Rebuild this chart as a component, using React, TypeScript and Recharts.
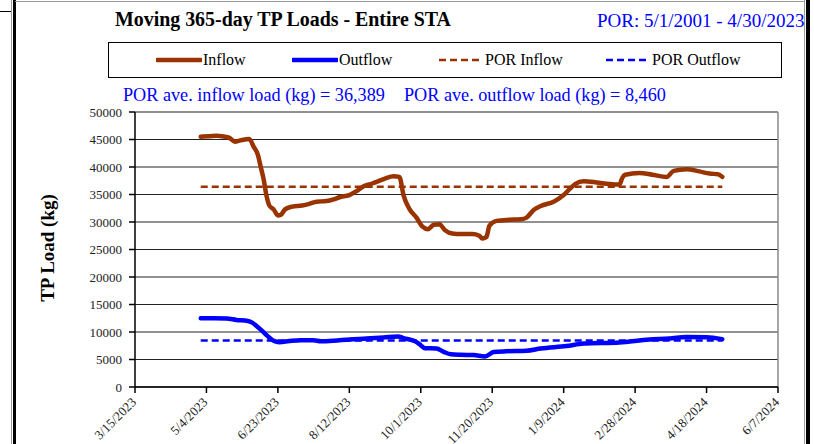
import React from "react";
import {
  LineChart,
  Line,
  XAxis,
  YAxis,
  CartesianGrid,
  ReferenceLine,
} from "recharts";

// days after 3/15/2023
const inflowDays = [
  46, 52, 57, 62, 66, 70, 73, 77, 80, 83, 86, 88, 90, 92, 94, 97, 100, 102, 105, 110,
  117, 122, 127, 134, 139, 143, 150, 155, 160, 166, 170, 175, 181, 185, 188, 192, 197,
  201, 205, 209, 213, 217, 222, 228, 236, 241, 243, 246, 248, 253, 262, 270, 274, 279,
  284, 293, 300, 305, 308, 314, 323, 332, 339, 341, 343, 353, 362, 372, 377, 386, 395,
  402, 408, 411,
];
const inflowLoads = [
  45500, 45600, 45700, 45550, 45300, 44600, 44800, 45000, 45100, 43700, 42200, 40000,
  37800, 34800, 33000, 32300, 31200, 31300, 32300, 32800, 33000, 33300, 33700, 33800,
  34100, 34500, 34900, 35600, 36500, 37000, 37400, 37900, 38300, 38200, 34800, 32400,
  30800, 29200, 28700, 29500, 29600, 28500, 27900, 27800, 27800, 27500, 27000, 27300,
  29300, 30200, 30400, 30500, 30800, 32200, 32900, 33700, 34900, 36200, 36900, 37400,
  37200, 36900, 36800, 38000, 38600, 38900, 38600, 38200, 39300, 39600, 39200, 38800,
  38700, 38200,
];

const outflowDays = [
  46, 55, 64, 71, 79, 82, 85, 89, 93, 97, 101, 108, 116, 125, 130, 139, 150, 162, 174,
  184, 188, 196, 199, 203, 211, 216, 221, 228, 237, 245, 251, 260, 274, 284, 302, 314,
  339, 360, 374, 386, 400, 411,
];
const outflowLoads = [
  12500, 12500, 12450, 12200, 12000, 11700, 11100, 10200, 9200, 8400, 8150, 8350, 8500,
  8500, 8300, 8400, 8650, 8800, 9000, 9200, 8900, 8300, 7800, 7050, 7000, 6400, 5950,
  5850, 5800, 5550, 6350, 6500, 6600, 7000, 7450, 7900, 8100, 8650, 8800, 9100, 9050,
  8700,
];

const porDays = [46, 411];
const porInflowAvg = 36389;
const porOutflowAvg = 8460;

const xTicks = [0, 50, 100, 150, 200, 250, 300, 350, 400, 450];
const yTicks = [0, 5000, 10000, 15000, 20000, 25000, 30000, 35000, 40000, 45000, 50000];

const inflowData = inflowDays.map((day, i) => ({ day, load: inflowLoads[i] }));
const outflowData = outflowDays.map((day, i) => ({ day, load: outflowLoads[i] }));
const porInflowData = porDays.map((day) => ({ day, load: porInflowAvg }));
const porOutflowData = porDays.map((day) => ({ day, load: porOutflowAvg }));

const BASE = Date.UTC(2023, 2, 15);
const fmtDate = (d: number) => {
  const t = new Date(BASE + d * 86400000);
  return `${t.getUTCMonth() + 1}/${t.getUTCDate()}/${t.getUTCFullYear()}`;
};

const BROWN = "#993300";
const BLUE = "#0000FF";
const SERIF = "'Liberation Serif', 'Times New Roman', serif";

const abs = (style: React.CSSProperties): React.CSSProperties => ({ position: "absolute", ...style });

function DateTick(props: any) {
  const { x, y, payload } = props;
  const bx = x + 2;
  const by = y + 8;
  return (
    <text
      x={bx}
      y={by}
      textAnchor="end"
      fontSize={13}
      fill="#222"
      fontFamily={SERIF}
      transform={`rotate(-45, ${bx}, ${by})`}
    >
      {fmtDate(payload.value)}
    </text>
  );
}

function LegendItem({ left, color, dashed, label }: { left: number; color: string; dashed?: boolean; label: string }) {
  return (
    <div style={abs({ left, top: 8, display: "flex", alignItems: "center", whiteSpace: "nowrap" })}>
      <svg width={46} height={10}>
        <line
          x1={1}
          x2={45}
          y1={5}
          y2={5}
          stroke={color}
          strokeWidth={dashed ? 2.5 : 4.5}
          strokeLinecap={dashed ? "butt" : "round"}
          strokeDasharray={dashed ? "7 4" : undefined}
        />
      </svg>
      <span style={{ fontSize: 16, lineHeight: "18px", marginLeft: 1 }}>{label}</span>
    </div>
  );
}

export default function App() {
  return (
    <div style={abs({ left: 0, top: 0, width: 814, height: 444, background: "#fff", overflow: "hidden", fontFamily: SERIF })}>
      {/* page frame */}
      <div style={abs({ left: 0, top: 11, width: 12, height: 1, background: "#000" })} />
      <div style={abs({ left: 11, top: 0, width: 1, height: 444, background: "#999" })} />
      <div style={abs({ left: 13, top: 0, width: 2.5, height: 444, background: "#000" })} />
      <div style={abs({ left: 15, top: 1, width: 790, height: 1, background: "#999" })} />
      <div style={abs({ left: 804, top: 0, width: 1, height: 444, background: "#999" })} />
      <div style={abs({ left: 806, top: 0, width: 4, height: 444, background: "#000" })} />

      <div style={abs({ left: 115, top: 10, fontSize: 19.9, fontWeight: "bold", lineHeight: 1, whiteSpace: "nowrap" })}>
        Moving 365-day TP Loads - Entire STA
      </div>
      <div style={abs({ left: 597, top: 11, fontSize: 19, color: BLUE, lineHeight: 1, whiteSpace: "nowrap" })}>
        POR: 5/1/2001 - 4/30/2023
      </div>

      <div style={abs({ left: 108, top: 42, width: 674, height: 36, border: "1px solid #000", boxSizing: "border-box" })}>
        <LegendItem left={47} color={BROWN} label="Inflow" />
        <LegendItem left={183} color={BLUE} label="Outflow" />
        <LegendItem left={329} color={BROWN} dashed label="POR Inflow" />
        <LegendItem left={496} color={BLUE} dashed label="POR Outflow" />
      </div>

      <div style={abs({ left: 123, top: 86, fontSize: 18.2, color: BLUE, lineHeight: 1, whiteSpace: "nowrap" })}>
        POR ave. inflow load (kg) = 36,389
      </div>
      <div style={abs({ left: 404, top: 86, fontSize: 18.2, color: BLUE, lineHeight: 1, whiteSpace: "nowrap" })}>
        POR ave. outflow load (kg) = 8,460
      </div>

      <div
        style={abs({
          left: 47,
          top: 248,
          transform: "translate(-50%, -50%) rotate(-90deg)",
          fontSize: 19,
          fontWeight: "bold",
          lineHeight: 1,
          whiteSpace: "nowrap",
        })}
      >
        TP Load (kg)
      </div>

      <div style={abs({ left: 0, top: 0 })}>
        <LineChart width={814} height={444} margin={{ top: 112, right: 36, bottom: 0, left: 0 }}>
          <CartesianGrid vertical={false} stroke="#222" strokeWidth={1} />
          <XAxis
            type="number"
            dataKey="day"
            domain={[0, 450]}
            ticks={xTicks}
            height={57}
            stroke="#000"
            strokeWidth={1.5}
            tickSize={6}
            tickMargin={2}
            tick={<DateTick />}
            allowDataOverflow
          />
          <YAxis
            type="number"
            domain={[0, 50000]}
            ticks={yTicks}
            width={135}
            stroke="#000"
            strokeWidth={1.5}
            tickSize={6}
            tickMargin={7}
            tick={{ fontSize: 13, fill: "#222", fontFamily: SERIF }}
          />
          <ReferenceLine x={450} stroke="#888" strokeWidth={1.5} />
          <Line
            data={porInflowData}
            dataKey="load"
            stroke={BROWN}
            strokeWidth={2.5}
            strokeDasharray="7 4"
            dot={false}
            isAnimationActive={false}
          />
          <Line
            data={porOutflowData}
            dataKey="load"
            stroke={BLUE}
            strokeWidth={2.5}
            strokeDasharray="7 4"
            dot={false}
            isAnimationActive={false}
          />
          <Line
            data={inflowData}
            dataKey="load"
            type="monotone"
            stroke={BROWN}
            strokeWidth={4.5}
            strokeLinecap="round"
            dot={false}
            isAnimationActive={false}
          />
          <Line
            data={outflowData}
            dataKey="load"
            type="monotone"
            stroke={BLUE}
            strokeWidth={4.5}
            strokeLinecap="round"
            dot={false}
            isAnimationActive={false}
          />
        </LineChart>
      </div>
    </div>
  );
}
